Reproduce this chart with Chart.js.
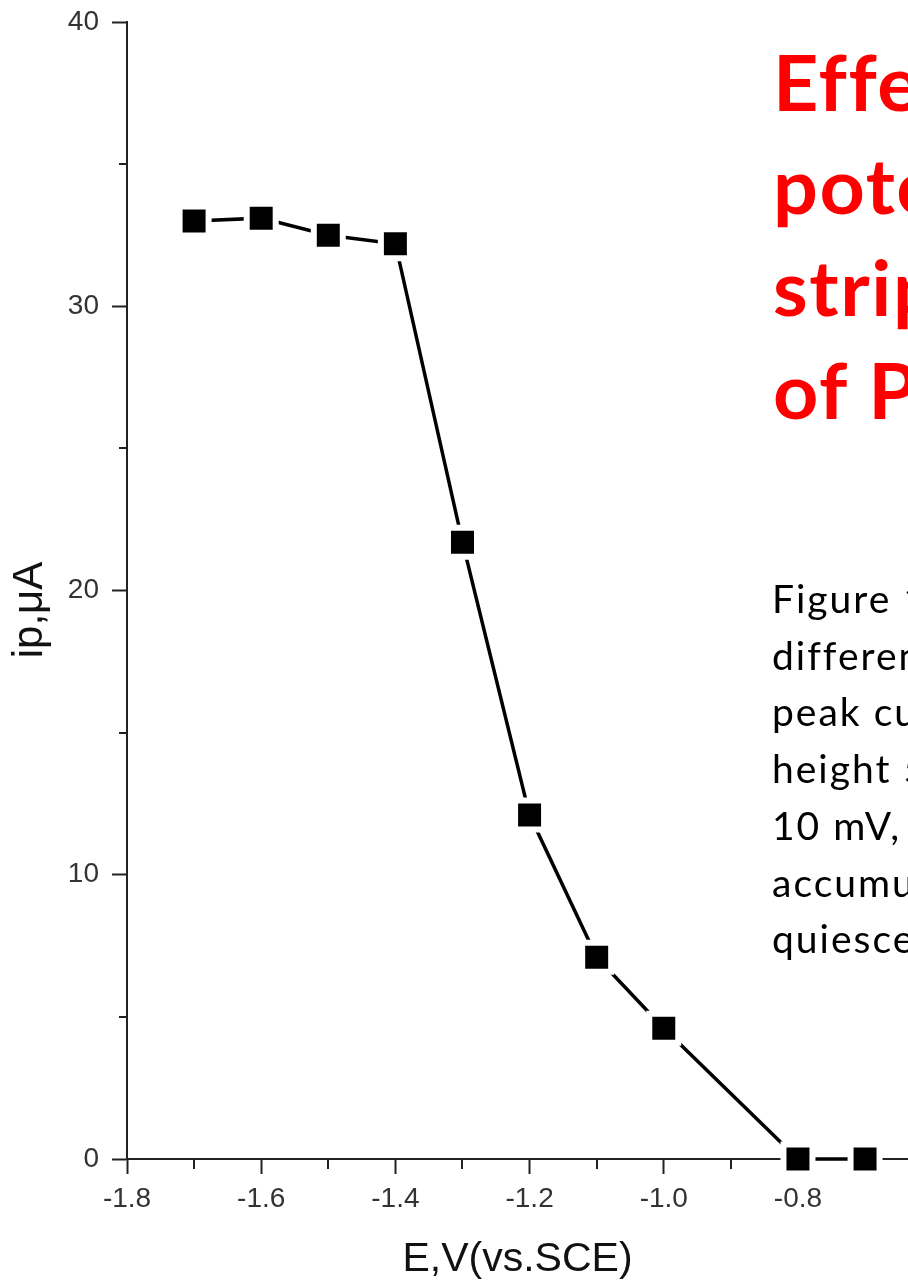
<!DOCTYPE html>
<html>
<head>
<meta charset="utf-8">
<script src="https://cdn.jsdelivr.net/npm/chart.js@4/dist/chart.umd.min.js"></script>
<style>
  html, body { margin: 0; padding: 0; width: 908px; height: 1284px; overflow: hidden; background: #fff; }
  #wrap { position: absolute; left: 0; top: 0; width: 908px; height: 1284px; }
  .heading {
    position: absolute; left: 773px; top: 31px;
    font-family: Lato, "Open Sans", sans-serif; font-weight: 700;
    font-size: 76px; line-height: 102.5px; letter-spacing: 1.5px;
    transform: scaleX(1.04); transform-origin: 0 0;
    color: #ff0000; white-space: nowrap;
  }
  .caption {
    position: absolute; left: 772px; top: 570px;
    font-family: Lato, "Open Sans", sans-serif; font-weight: 400;
    font-size: 39px; line-height: 56.7px; letter-spacing: 2px;
    color: #000; white-space: nowrap;
  }
</style>
</head>
<body>
<div id="wrap"><canvas id="c" width="908" height="1284"></canvas></div>
<div class="heading">Effect of accumulation<br>potential on the<br>stripping peak current<br>of Pb(II)</div>
<div class="caption">Figure 1. Effect of<br>different accumulation potentials on the<br>peak current of Pb(II); pulse<br>height 50 mV, scan increment<br>10 mV, frequency 25 Hz,<br>accumulation time 60 s,<br>quiescent time 10 s.</div>
<script>
// Accumulation potential (V vs. SCE) and stripping peak current (µA)
const potentials   = [-1.7, -1.6, -1.5, -1.4, -1.3, -1.2, -1.1, -1.0, -0.8, -0.7];
const peakCurrents = [33.0, 33.1, 32.5, 32.2, 21.7, 12.1, 7.1, 4.6, 0.0, 0.0];

// Axis ticks
const xTickValues  = [-1.8, -1.6, -1.4, -1.2, -1.0, -0.8];
const xMinorValues = [-1.7, -1.5, -1.3, -1.1, -0.9, -0.7];
const yTickValues  = [0, 10, 20, 30, 40];
const yMinorValues = [5, 15, 25, 35];

const xTitle = 'E,V(vs.SCE)';
const yTitle = 'ip,μA';

const axisColor = '#222';
const tickLabelColor = '#333';
const sansFamily = '"Liberation Sans", Arial, sans-serif';

// Short minor tick marks between the labelled ones
const minorTicks = {
  id: 'minorTicks',
  beforeDatasetsDraw(chart) {
    const { ctx, scales: { x, y } } = chart;
    ctx.save();
    ctx.strokeStyle = axisColor;
    ctx.lineWidth = 2;
    ctx.beginPath();
    xMinorValues.forEach(v => {
      const px = Math.round(x.getPixelForValue(v));
      if (px > x.right) return;
      ctx.moveTo(px, y.bottom);
      ctx.lineTo(px, y.bottom + 10);
    });
    yMinorValues.forEach(v => {
      const py = Math.round(y.getPixelForValue(v));
      ctx.moveTo(x.left, py);
      ctx.lineTo(x.left - 8, py);
    });
    ctx.stroke();
    ctx.restore();
  }
};

// Vertical axis title, set slightly below the middle of the axis
const yAxisTitle = {
  id: 'yAxisTitle',
  afterDraw(chart) {
    const { ctx } = chart;
    ctx.save();
    ctx.translate(30, 610);
    ctx.rotate(-Math.PI / 2);
    ctx.font = '42px ' + sansFamily;
    ctx.fillStyle = '#111';
    ctx.textAlign = 'center';
    ctx.textBaseline = 'middle';
    ctx.fillText(yTitle, 0, 0);
    ctx.restore();
  }
};

new Chart(document.getElementById('c'), {
  type: 'line',
  data: {
    datasets: [{
      data: potentials.map((e, i) => ({ x: e, y: peakCurrents[i] })),
      borderColor: '#000',
      borderWidth: 3.5,
      tension: 0,
      pointStyle: 'rect',
      pointRadius: 20.5,
      pointBorderWidth: 6,
      pointBorderColor: '#fff',
      pointBackgroundColor: '#000',
      clip: false
    }]
  },
  options: {
    responsive: false,
    animation: false,
    devicePixelRatio: 1,
    layout: { autoPadding: false, padding: { top: 22, right: 0, bottom: 0, left: 0 } },
    plugins: { legend: { display: false }, tooltip: { enabled: false } },
    scales: {
      x: {
        type: 'linear',
        min: -1.8,
        max: -0.636,
        afterBuildTicks: s => { s.ticks = xTickValues.map(v => ({ value: v })); },
        afterFit: s => { s.height = 125; s.paddingLeft = 0; s.paddingRight = 0; },
        grid: { drawOnChartArea: false, drawTicks: true, tickLength: 15, tickWidth: 2, tickColor: axisColor },
        border: { display: true, color: axisColor, width: 2 },
        ticks: {
          autoSkip: false, maxRotation: 0, padding: 8, color: tickLabelColor,
          font: { family: sansFamily, size: 28 },
          callback: v => Number(v).toFixed(1)
        },
        title: {
          display: true, text: xTitle, color: '#111',
          font: { family: sansFamily, size: 41 },
          padding: { top: 0, bottom: 0 }
        }
      },
      y: {
        type: 'linear',
        min: 0,
        max: 40,
        afterBuildTicks: s => { s.ticks = yTickValues.map(v => ({ value: v })); },
        afterFit: s => { s.width = 127; s.paddingTop = 0; s.paddingBottom = 0; },
        grid: { drawOnChartArea: false, drawTicks: true, tickLength: 15, tickWidth: 2, tickColor: axisColor },
        border: { display: true, color: axisColor, width: 2 },
        ticks: {
          autoSkip: false, padding: 13, color: tickLabelColor,
          font: { family: sansFamily, size: 28 },
          callback: v => String(v)
        }
      }
    }
  },
  plugins: [minorTicks, yAxisTitle]
});
</script>
</body>
</html>
